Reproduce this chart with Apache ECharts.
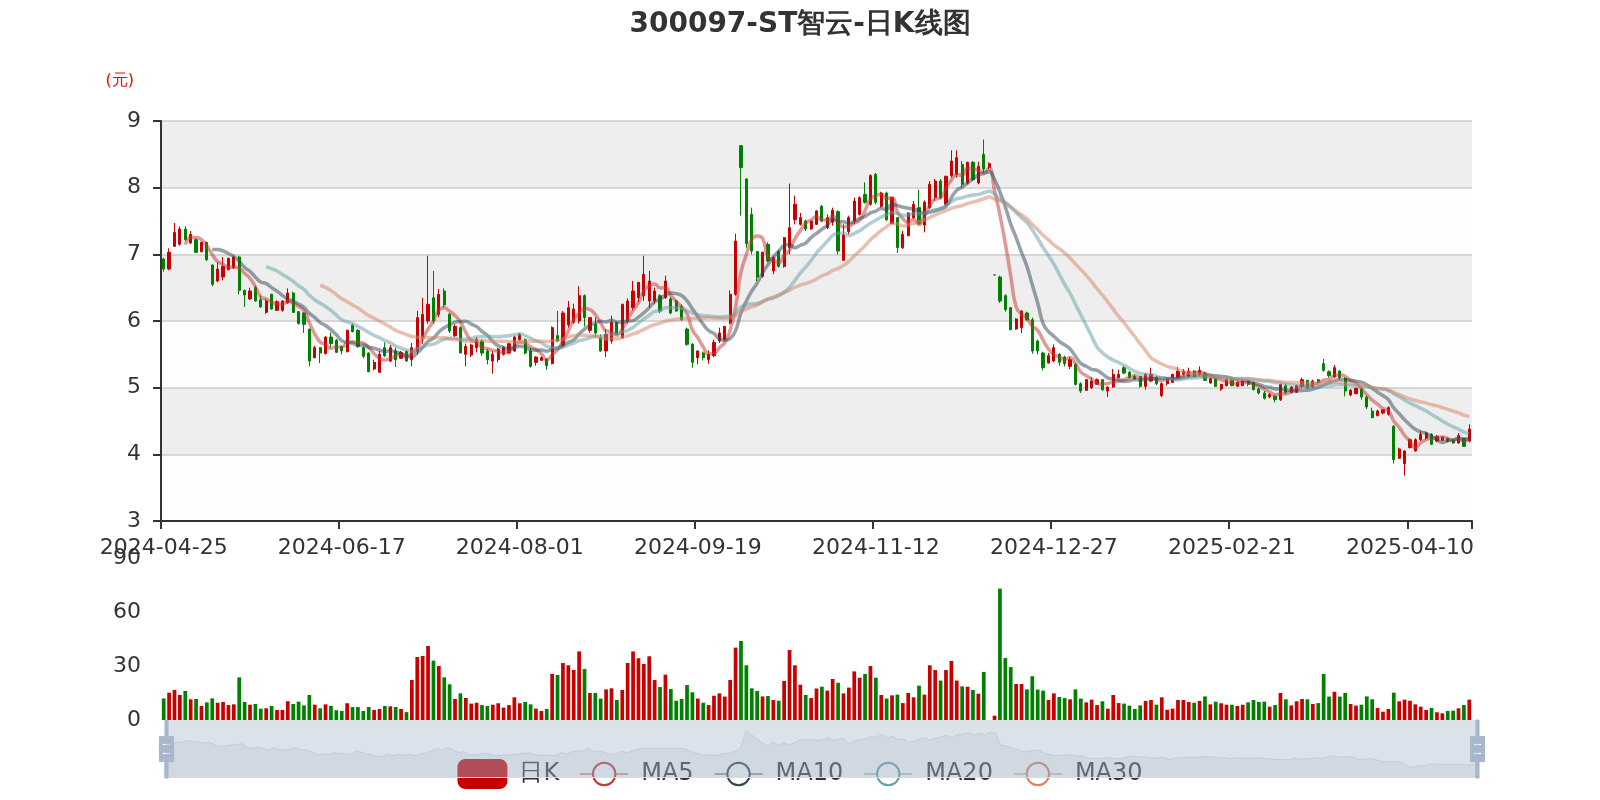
<!DOCTYPE html>
<html><head><meta charset="utf-8">
<script src="https://cdn.jsdelivr.net/npm/echarts@6/dist/echarts.min.js"></script>
<style>html,body{margin:0;padding:0;background:#fff}#main{width:1600px;height:800px}</style>
</head><body><div id="main"></div>
<script>
// trading days by month (category axis)
const tradingDays = [
 ['2024-04',[25,26,29,30]],
 ['2024-05',[6,7,8,9,10,13,14,15,16,17,20,21,22,23,24,27,28,29,30,31]],
 ['2024-06',[3,4,5,6,7,11,12,13,14,17,18,19,20,21,24,25,26,27,28]],
 ['2024-07',[1,2,3,4,5,8,9,10,11,12,15,16,17,18,19,22,23,24,25,26,29,30,31]],
 ['2024-08',[1,2,5,6,7,8,9,12,13,14,15,16,19,20,21,22,23,26,27,28,29,30]],
 ['2024-09',[2,3,4,5,6,9,10,11,12,13,18,19,20,23,24,25,26,27,30]],
 ['2024-10',[8,9,10,11,14,15,16,17,18,21,22,23,24,25,28,29,30,31]],
 ['2024-11',[1,4,5,6,7,8,11,12,13,14,15,18,19,20,21,22,25,26,27,28,29]],
 ['2024-12',[2,3,4,5,6,9,10,11,12,13,16,17,18,19,20,23,24,25,26,27,30,31]],
 ['2025-01',[2,3,6,7,8,9,10,13,14,15,16,17,20,21,22,23,24,27]],
 ['2025-02',[5,6,7,10,11,12,13,14,17,18,19,20,21,24,25,26,27,28]],
 ['2025-03',[3,4,5,6,7,10,11,12,13,14,17,18,19,20,21,24,25,26,27,28,31]],
 ['2025-04',[1,2,3,7,8,9,10,11,14,15,16,17,18,21,22,23,24,25]]
];
// [open, close, low, high]
const ohlc = [
[6.93,6.78,6.74,6.95],[6.78,7.03,6.76,7.09],[7.12,7.33,7.11,7.47],[7.15,7.38,7.13,7.42],[7.38,7.22,7.20,7.42],
[7.17,7.30,7.16,7.35],[7.22,7.03,7.02,7.24],[7.04,7.18,7.03,7.19],[7.18,6.92,6.90,7.19],[6.84,6.55,6.52,6.85],
[6.60,6.78,6.58,6.88],[6.66,6.82,6.61,6.96],[6.77,6.94,6.76,6.95],[6.80,6.96,6.78,6.98],[6.96,6.46,6.40,6.98],
[6.46,6.39,6.21,6.47],[6.33,6.45,6.32,6.50],[6.50,6.30,6.29,6.53],[6.32,6.21,6.20,6.38],[6.13,6.30,6.11,6.33],
[6.40,6.18,6.17,6.41],[6.16,6.29,6.15,6.31],[6.16,6.30,6.14,6.31],[6.27,6.42,6.26,6.49],[6.42,6.13,6.12,6.44],
[6.14,5.96,5.95,6.15],[6.12,5.95,5.82,6.13],[5.88,5.40,5.32,5.88],[5.45,5.60,5.44,5.63],[5.60,5.52,5.37,5.61],
[5.51,5.76,5.50,5.77],[5.76,5.66,5.60,5.83],[5.71,5.53,5.52,5.73],[5.62,5.55,5.50,5.63],[5.54,5.86,5.53,5.87],
[5.94,5.84,5.83,5.96],[5.86,5.62,5.60,5.88],[5.60,5.47,5.44,5.62],[5.52,5.24,5.23,5.53],[5.28,5.38,5.26,5.42],
[5.23,5.50,5.22,5.55],[5.60,5.48,5.46,5.68],[5.40,5.60,5.38,5.64],[5.55,5.42,5.31,5.60],[5.44,5.53,5.43,5.55],
[5.55,5.40,5.39,5.55],[5.42,5.60,5.32,5.67],[5.55,6.05,5.50,6.15],[5.75,6.10,5.66,6.35],[6.00,6.25,5.96,6.98],
[6.35,6.00,5.96,6.75],[6.10,6.40,6.06,6.48],[6.45,6.24,6.20,6.49],[6.10,5.85,5.82,6.12],[5.78,5.92,5.76,5.95],
[5.90,5.52,5.52,5.92],[5.50,5.62,5.32,5.66],[5.49,5.64,5.46,5.66],[5.60,5.72,5.53,5.76],[5.70,5.52,5.48,5.72],
[5.55,5.42,5.35,5.58],[5.40,5.50,5.21,5.55],[5.42,5.58,5.38,5.60],[5.50,5.60,5.48,5.62],[5.52,5.66,5.50,5.68],
[5.55,5.76,5.54,5.78],[5.72,5.80,5.70,5.82],[5.72,5.52,5.50,5.74],[5.55,5.32,5.30,5.60],[5.38,5.46,5.33,5.47],
[5.41,5.45,5.40,5.47],[5.43,5.33,5.27,5.44],[5.36,5.90,5.35,5.92],[5.78,5.70,5.68,6.15],[5.62,6.12,5.60,6.15],
[5.94,6.20,5.90,6.30],[5.98,6.18,5.96,6.26],[6.00,6.38,5.96,6.52],[6.38,6.05,5.92,6.40],[5.86,6.05,5.82,6.05],
[5.95,5.82,5.76,6.06],[5.75,5.55,5.54,5.80],[5.55,5.80,5.46,5.88],[5.70,5.98,5.66,6.08],[5.98,5.80,5.79,5.99],
[5.75,6.25,5.73,6.26],[6.00,6.30,5.96,6.34],[6.20,6.45,6.16,6.60],[6.35,6.58,6.28,6.58],[6.38,6.70,6.30,6.98],
[6.30,6.60,6.20,6.75],[6.30,6.45,6.25,6.50],[6.38,6.15,6.12,6.40],[6.35,6.60,6.33,6.68],[6.33,6.12,6.10,6.36],
[6.30,6.15,6.14,6.32],[6.22,6.02,6.00,6.25],[5.88,5.65,5.63,5.90],[5.65,5.38,5.30,5.67],[5.45,5.55,5.35,5.56],
[5.52,5.45,5.41,5.54],[5.42,5.50,5.36,5.56],[5.48,5.68,5.46,5.72],[5.70,5.82,5.67,5.90],[5.72,5.92,5.71,5.92],
[5.97,6.40,5.95,6.46],[6.40,7.20,6.38,7.31],[8.63,8.30,7.58,8.63],[8.13,7.16,7.10,8.14],[7.60,7.05,7.00,7.70],
[7.04,6.66,6.60,7.05],[6.67,7.03,6.65,7.04],[7.15,6.90,6.88,7.18],[6.75,6.95,6.70,6.97],[7.04,6.82,6.80,7.07],
[6.82,7.25,6.80,7.26],[7.10,7.40,7.00,8.06],[7.52,7.75,7.45,7.88],[7.45,7.55,7.43,7.62],[7.50,7.38,7.35,7.52],
[7.38,7.50,7.37,7.51],[7.45,7.65,7.44,7.66],[7.72,7.50,7.48,7.74],[7.40,7.55,7.38,7.60],[7.48,7.66,7.43,7.70],
[7.64,7.05,7.00,7.66],[6.91,7.29,6.90,7.45],[7.34,7.55,7.30,7.58],[7.50,7.80,7.45,7.85],[7.60,7.85,7.58,7.87],
[7.90,7.78,7.76,8.08],[7.75,8.18,7.73,8.20],[8.20,7.78,7.75,8.22],[7.72,7.92,7.70,7.94],[7.92,7.52,7.50,7.94],
[7.46,7.85,7.45,7.86],[7.55,7.10,7.02,7.56],[7.10,7.30,7.08,7.35],[7.28,7.62,7.27,7.63],[7.55,7.75,7.53,7.80],
[7.70,7.46,7.44,7.97],[7.44,7.78,7.33,7.81],[7.70,8.05,7.68,8.10],[7.85,8.10,7.80,8.13],[8.10,7.85,7.83,8.13],
[7.75,8.17,7.73,8.18],[8.18,8.40,8.15,8.56],[8.20,8.45,8.15,8.56],[8.35,8.05,8.00,8.40],[8.07,8.38,8.05,8.39],
[8.38,8.12,8.10,8.40],[8.07,8.32,8.05,8.39],[8.50,8.28,8.22,8.72],[8.30,8.36,8.28,8.38],[6.69,6.69,6.69,6.69],
[6.66,6.30,6.27,6.68],[6.38,6.17,6.14,6.40],[6.20,5.87,5.86,6.21],[5.88,6.03,5.87,6.04],[5.90,6.15,5.82,6.16],
[6.12,6.02,6.00,6.14],[6.02,5.55,5.51,6.05],[5.70,5.55,5.50,5.72],[5.52,5.30,5.26,5.54],[5.37,5.48,5.36,5.52],
[5.40,5.60,5.38,5.65],[5.50,5.38,5.33,5.52],[5.46,5.36,5.32,5.48],[5.32,5.42,5.28,5.46],[5.35,5.05,5.03,5.37],
[5.06,4.95,4.92,5.08],[4.96,5.12,4.95,5.13],[5.00,5.10,4.98,5.16],[5.05,5.12,5.04,5.14],[5.12,4.97,4.95,5.13],
[4.95,5.01,4.86,5.02],[5.01,5.20,5.00,5.28],[5.15,5.20,5.14,5.27],[5.30,5.22,5.20,5.33],[5.23,5.15,5.14,5.25],
[5.17,5.13,5.12,5.20],[5.17,5.02,5.00,5.18],[5.02,5.20,4.97,5.22],[5.10,5.20,5.08,5.30],[5.16,5.06,5.04,5.18],
[4.88,5.06,4.86,5.08],[5.06,5.14,5.03,5.16],[5.08,5.20,5.07,5.21],[5.15,5.25,5.14,5.31],[5.20,5.25,5.18,5.28],
[5.17,5.25,5.16,5.30],[5.25,5.17,5.16,5.26],[5.20,5.26,5.18,5.32],[5.22,5.11,5.10,5.24],[5.07,5.14,5.06,5.15],
[5.15,5.02,5.01,5.16],[4.98,5.05,4.95,5.06],[5.03,5.12,5.02,5.14],[5.12,5.03,5.02,5.14],[5.02,5.08,5.01,5.10],
[5.03,5.10,5.02,5.12],[5.10,5.05,5.02,5.11],[5.08,4.97,4.96,5.09],[4.98,4.92,4.90,5.00],[4.92,4.84,4.82,4.95],
[4.86,4.90,4.84,4.92],[4.87,4.82,4.78,4.89],[4.82,5.05,4.80,5.06],[5.03,4.93,4.90,5.06],[4.93,5.01,4.91,5.02],
[4.93,5.03,4.92,5.05],[5.02,5.12,4.99,5.15],[5.11,5.00,4.98,5.12],[5.01,5.10,5.00,5.12],[5.12,5.08,5.06,5.13],
[5.36,5.26,5.24,5.43],[5.24,5.18,5.15,5.26],[5.16,5.30,5.14,5.34],[5.25,5.15,5.12,5.26],[5.14,4.95,4.87,5.16],
[4.89,4.96,4.87,4.98],[4.91,4.99,4.90,5.00],[4.98,4.86,4.82,5.00],[4.86,4.71,4.68,4.88],[4.65,4.55,4.54,4.70],
[4.58,4.65,4.57,4.67],[4.62,4.67,4.60,4.68],[4.60,4.70,4.58,4.72],[4.42,3.92,3.86,4.44],[3.94,4.08,3.93,4.10],
[3.86,4.05,3.68,4.06],[4.10,4.22,4.09,4.24],[4.05,4.22,4.04,4.24],[4.22,4.30,4.20,4.35],[4.24,4.32,4.22,4.34],
[4.30,4.15,4.14,4.32],[4.20,4.27,4.18,4.29],[4.21,4.26,4.20,4.27],[4.24,4.19,4.18,4.25],[4.21,4.17,4.16,4.22],
[4.17,4.28,4.16,4.32],[4.24,4.12,4.11,4.25],[4.20,4.38,4.18,4.45]
];
const volumes = [
12,15.2,16.7,13.9,16.1,11.5,11.7,7.8,9.8,12,9.6,10,8.3,8.7,23.7,10,8.5,8.9,6.3,6.5,
7.8,5.6,5.6,10.4,8.9,10.2,8.1,13.9,8.5,6.5,8.7,7.8,5.4,5,9.3,7.2,7.2,5,7.2,5.6,
6.1,7.8,7.6,7.2,6.1,4.4,22.2,35,35.6,41.1,33,30,23.7,19.8,11.7,14.8,12.2,9.1,9.6,8.3,
7.8,8.5,9.3,6.9,8.3,12.6,9.3,10,8.7,6.3,5,6.1,25.6,25,31.7,30.4,27.8,38.1,28.3,15,
15,11.9,17,17.6,11.1,16.7,31.7,38.1,34.3,31.1,35.4,22.2,18.3,25.2,17.2,10.7,11.7,19.4,15.4,11.9,
9.6,8.3,13.5,14.8,13,22.2,40.2,43.9,30.4,17.6,16.1,13.1,13.3,11.1,10.7,21.7,38.9,30.4,19.6,13.9,
12.2,17.5,18.5,16.3,22.8,20.7,14.8,18,27,23.5,25.6,30,23.5,13.9,11.9,13.7,14.1,9.4,15,12.6,
19.1,14.1,30.4,27.8,21.9,27.8,32.8,21.9,18.7,18.5,16.7,14.6,26.7,0,2.4,73,34.4,29.4,20,20,
17,24.3,16.9,16.3,11.1,14.8,12.8,12.2,11.5,17,11.9,9.8,11.3,8.3,10.4,6.3,13.9,9.4,9.1,8,
6.1,8.1,10.6,11.1,8.5,12.6,5.7,6.3,11.1,11.1,10,9.6,10.6,13.1,8.7,10.2,9.3,8.5,8.5,7.8,
8.5,9.8,11.1,10,10.2,7.4,8.3,15,11.5,8.1,10.4,11.7,11.5,8.9,9.4,25.6,13,15.7,13,15,
8.9,8,8.5,13.1,11.5,6.7,4.6,6.1,15.2,10.4,11.3,10.7,8.7,7.4,5.6,6.7,4.3,3.7,5,5.2,
6.5,8.3,11.3
];
const maPeriods = [5, 10, 20, 30];
const maColors = ['#c23531', '#2f4554', '#61a0a8', '#d48265'];
const UP = '#c80000', DOWN = '#008000';

const dates = [];
tradingDays.forEach(([m, ds]) => ds.forEach(d => dates.push(m + '-' + String(d).padStart(2, '0'))));

function calcMA(n) {
  const out = [];
  for (let i = 0; i < ohlc.length; i++) {
    if (i < n - 1) { out.push('-'); continue; }
    let s = 0;
    for (let j = 0; j < n; j++) s += ohlc[i - j][1];
    out.push(+(s / n).toFixed(3));
  }
  return out;
}

const chart = echarts.init(document.getElementById('main'));
const maSeries = maPeriods.map((p, k) => ({
  name: 'MA' + p, type: 'line', data: calcMA(p), smooth: true, showSymbol: false,
  xAxisIndex: 0, yAxisIndex: 0, color: maColors[k],
  lineStyle: { width: 3.5, opacity: 0.5 }
}));

chart.setOption({
  animation: false,
  backgroundColor: '#fff',
  textStyle: { fontFamily: 'DejaVu Sans' },
  title: { text: '300097-ST智云-日K线图', left: 'center', top: 6,
    textStyle: { fontSize: 28, fontWeight: 'bold', color: '#333', fontFamily: 'DejaVu Sans' } },
  legend: { data: ['日K', 'MA5', 'MA10', 'MA20', 'MA30'], bottom: 6, left: 'center', z: 2,
    itemWidth: 48, itemHeight: 28, itemGap: 20,
    textStyle: { fontSize: 24, color: '#333', fontFamily: 'DejaVu Sans', padding: [0, 0, 0, 8] } },
  grid: [
    { left: 161, right: 128, top: 121, height: 400 },
    { left: 161, right: 128, top: 558, height: 162 }
  ],
  xAxis: [
    { type: 'category', data: dates, gridIndex: 0, boundaryGap: true,
      axisLine: { lineStyle: { color: '#333', width: 2 } },
      axisTick: { show: true, length: 8, lineStyle: { color: '#333', width: 2 } },
      axisLabel: { interval: 32, fontSize: 22, color: '#333', margin: 16, fontFamily: 'DejaVu Sans' },
      splitLine: { show: false } },
    { type: 'category', data: dates, gridIndex: 1, boundaryGap: true,
      axisLine: { show: false }, axisTick: { show: false }, axisLabel: { show: false }, splitLine: { show: false } }
  ],
  yAxis: [
    { type: 'value', gridIndex: 0, min: 3, max: 9, interval: 1,
      name: '(元)', nameLocation: 'end', nameGap: 32,
      nameTextStyle: { color: 'red', fontSize: 16, align: 'right', padding: [0, 27, 0, 0], fontFamily: 'DejaVu Sans' },
      axisLine: { show: true, lineStyle: { color: '#333', width: 2 } },
      axisTick: { show: true, length: 8, lineStyle: { color: '#333', width: 2 } },
      axisLabel: { fontSize: 22, color: '#333', margin: 20, fontFamily: 'DejaVu Sans' },
      splitLine: { show: true, lineStyle: { color: '#ccc', width: 1.5 } },
      splitArea: { show: true, areaStyle: { color: ['rgba(250,250,250,0.3)', 'rgba(200,200,200,0.3)'] } } },
    { type: 'value', gridIndex: 1, min: 0, max: 90, interval: 30,
      axisLine: { show: false }, axisTick: { show: false },
      axisLabel: { fontSize: 22, color: '#333', margin: 20, fontFamily: 'DejaVu Sans' },
      splitLine: { show: false } }
  ],
  dataZoom: [
    { type: 'slider', xAxisIndex: [0, 1], start: 0, end: 100, left: 163, right: 124, top: 720, height: 58,
      showDetail: false, brushSelect: false, moveHandleSize: 0,
      handleIcon: 'path://M8.2,13.6V3.9H6.3v9.7H3.1v14.9h3.3v9.7h1.8v-9.7h3.3V13.6H8.2z M9.7,24.4H4.8v-1.4h4.9V24.4z M9.7,19.1H4.8v-1.4h4.9V19.1z',
      handleSize: '100%', handleStyle: { color: '#a7b7cc', borderColor: '#a7b7cc' },
      fillerColor: 'rgba(167,183,204,0.4)', borderColor: '#ddd', backgroundColor: 'rgba(47,69,84,0)',
      dataBackground: { lineStyle: { color: '#2f4554', width: 0.5, opacity: 0.3 }, areaStyle: { color: 'rgba(47,69,84,0.3)', opacity: 0.3 } },
      selectedDataBackground: { lineStyle: { color: '#2f4554', width: 0.5, opacity: 0.3 }, areaStyle: { color: 'rgba(47,69,84,0.3)', opacity: 0.3 } }
    }
  ],
  series: [
    { name: '日K', type: 'candlestick', data: ohlc, xAxisIndex: 0, yAxisIndex: 0,
      itemStyle: { color: UP, color0: DOWN, borderColor: UP, borderColor0: DOWN } },
    ...maSeries,
    { name: 'Volume', type: 'bar', xAxisIndex: 1, yAxisIndex: 1,
      data: volumes.map((v, i) => ({ value: v, itemStyle: { color: ohlc[i][1] >= ohlc[i][0] ? UP : DOWN } })) }
  ]
});
</script></body></html>
